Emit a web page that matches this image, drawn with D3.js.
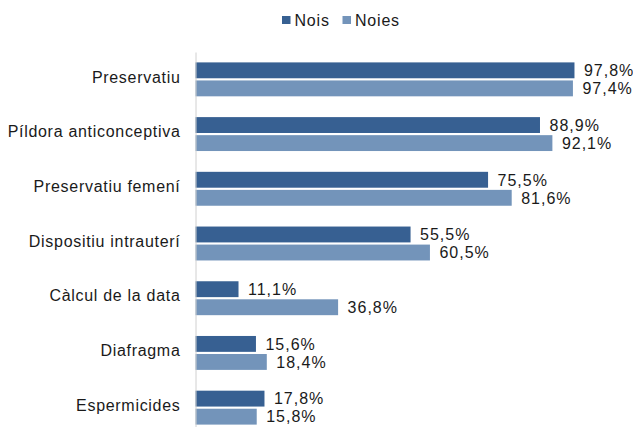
<!DOCTYPE html>
<html>
<head>
<meta charset="utf-8">
<script src="https://cdn.jsdelivr.net/npm/d3@7"></script>
<style>
  html, body { margin: 0; padding: 0; background: #fff; }
  svg { display: block; font-family: "Liberation Sans", Arial, sans-serif; }
</style>
</head>
<body>
<svg id="chart" width="633" height="427"></svg>
<script>
// Mètodes anticonceptius coneguts, per sexe (%)
const categories = [
  "Preservatiu",
  "Píldora anticonceptiva",
  "Preservatiu femení",
  "Dispositiu intrauterí",
  "Càlcul de la data",
  "Diafragma",
  "Espermicides"
];
const seriesNames = ["Nois", "Noies"];
const nois  = [97.8, 88.9, 75.5, 55.5, 11.1, 15.6, 17.8];
const noies = [97.4, 92.1, 81.6, 60.5, 36.8, 18.4, 15.8];
const colors = ["#376092", "#7394BA"];

const svg = d3.select("#chart");
const fmt = v => d3.format(".1f")(v).replace(".", ",") + "%";

const x = d3.scaleLinear().domain([0, 100]).range([195.5, 583]);
const y = d3.scaleBand().domain(categories).range([52, 435]).paddingInner(0.38).paddingOuter(0.19);
const ySub = d3.scaleBand().domain(seriesNames).range([0, y.bandwidth()]).paddingInner(0.12);

const rows = categories.map((c, i) => ({ cat: c, values: [nois[i], noies[i]] }));

const g = svg.selectAll("g.cat").data(rows).join("g")
  .attr("class", "cat")
  .attr("transform", d => `translate(0,${y(d.cat)})`);

g.selectAll("rect").data(d => d.values.map((v, j) => ({ v, s: seriesNames[j], j })))
  .join("rect")
  .attr("x", x(0))
  .attr("y", d => ySub(d.s))
  .attr("width", d => x(d.v) - x(0))
  .attr("height", ySub.bandwidth())
  .attr("fill", d => colors[d.j]);

g.selectAll("text.val").data(d => d.values.map((v, j) => ({ v, s: seriesNames[j], j })))
  .join("text")
  .attr("class", "val")
  .attr("x", d => x(d.v) + 9.5)
  .attr("y", d => ySub(d.s) + ySub.bandwidth() / 2)
  .attr("dy", "0.36em")
  .attr("font-size", 16)
  .attr("letter-spacing", 1)
  .attr("fill", "#1a1a1a")
  .text(d => fmt(d.v));

// Eix vertical amb les categories
const yAxis = d3.axisLeft(y).tickSize(0).tickPadding(15);
const ax = svg.append("g").attr("transform", `translate(${x(0)},0)`).call(yAxis);
ax.select(".domain").attr("stroke", "#d0d0d0").attr("stroke-width", 1);
ax.selectAll(".tick text")
  .attr("font-size", 16)
  .attr("letter-spacing", 0.7)
  .attr("dy", "0.2em")
  .attr("font-family", "Liberation Sans, Arial, sans-serif")
  .attr("fill", "#1a1a1a");

// Llegenda
const legend = svg.append("g").attr("transform", "translate(282,20)");
const items = [{ name: "Nois", x: 0 }, { name: "Noies", x: 60.5 }];
items.forEach((it, i) => {
  legend.append("rect").attr("x", it.x).attr("y", -4).attr("width", 8.5).attr("height", 8).attr("fill", colors[i]);
  legend.append("text").attr("x", it.x + 12.5).attr("y", 0).attr("dy", "0.36em")
    .attr("font-size", 16).attr("letter-spacing", 0.8).attr("fill", "#1a1a1a").text(it.name);
});
</script>
</body>
</html>
